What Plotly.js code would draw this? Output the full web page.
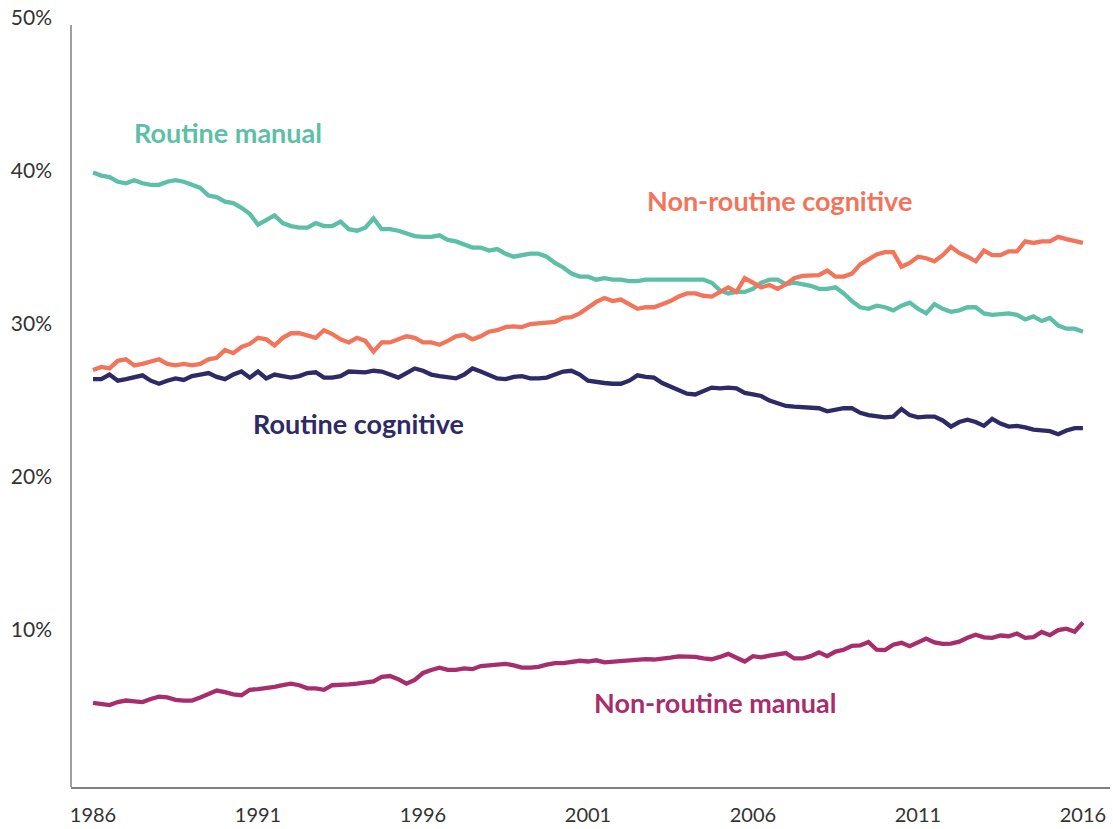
<!DOCTYPE html>
<html>
<head>
<meta charset="utf-8">
<script src="https://cdn.plot.ly/plotly-3.0.1.min.js"></script>
<style>html,body{margin:0;padding:0;background:#fff;}#chart{width:1113px;height:829px;}</style>
</head>
<body>
<div id="chart"></div>
<script>
// Quarterly shares of employment (%), 1986 Q1 to 2016 Q1
var startYear = 1986;
var routineManual = [
39.9,39.7,39.6,39.3,39.2,39.4,39.2,39.1,39.1,39.3,39.4,39.3,39.1,38.9,38.4,38.3,38.0,37.9,37.6,37.2,
36.5,36.8,37.1,36.6,36.4,36.3,36.3,36.6,36.4,36.4,36.7,36.2,36.1,36.3,36.9,36.2,36.2,36.1,35.9,35.75,
35.7,35.7,35.8,35.5,35.4,35.2,35.0,35.0,34.8,34.9,34.6,34.4,34.5,34.6,34.6,34.4,34.0,33.7,33.3,33.1,
33.1,32.9,33.0,32.9,32.9,32.8,32.8,32.9,32.9,32.9,32.9,32.9,32.9,32.9,32.9,32.7,32.2,32.0,32.1,32.1,
32.3,32.7,32.9,32.9,32.6,32.7,32.6,32.5,32.3,32.3,32.4,32.0,31.5,31.1,31.0,31.2,31.1,30.9,31.2,31.4,
31.0,30.7,31.3,31.0,30.8,30.9,31.1,31.1,30.7,30.6,30.65,30.7,30.6,30.3,30.5,30.2,30.4,29.9,29.7,29.7,
29.5];
var nonRoutineCognitive = [
27.0,27.2,27.1,27.6,27.7,27.3,27.4,27.55,27.7,27.4,27.3,27.4,27.3,27.4,27.7,27.8,28.3,28.1,28.5,28.7,
29.1,29.0,28.6,29.1,29.4,29.4,29.25,29.1,29.6,29.35,29.0,28.8,29.1,28.9,28.2,28.8,28.8,29.0,29.2,29.1,
28.8,28.8,28.65,28.9,29.2,29.3,29.0,29.2,29.5,29.6,29.8,29.85,29.8,30.0,30.05,30.1,30.15,30.4,30.45,30.7,
31.1,31.45,31.7,31.5,31.6,31.3,31.0,31.1,31.1,31.3,31.5,31.8,32.0,32.0,31.85,31.8,32.1,32.4,32.1,33.0,
32.7,32.4,32.55,32.3,32.6,33.0,33.15,33.2,33.2,33.5,33.1,33.1,33.3,33.9,34.25,34.55,34.7,34.7,33.75,34.0,
34.4,34.3,34.1,34.5,35.05,34.65,34.4,34.1,34.8,34.5,34.5,34.75,34.75,35.4,35.3,35.4,35.4,35.7,35.55,35.4,
35.3];
var routineCognitive = [
26.4,26.4,26.7,26.3,26.4,26.55,26.65,26.3,26.1,26.3,26.45,26.35,26.6,26.7,26.8,26.55,26.4,26.7,26.9,26.5,
26.9,26.45,26.7,26.6,26.5,26.6,26.8,26.85,26.5,26.5,26.6,26.9,26.85,26.85,26.95,26.9,26.7,26.5,26.8,27.1,
26.95,26.7,26.6,26.55,26.45,26.7,27.1,26.9,26.7,26.45,26.4,26.55,26.6,26.45,26.45,26.5,26.7,26.9,26.95,26.7,
26.3,26.2,26.15,26.1,26.1,26.3,26.65,26.55,26.5,26.15,25.9,25.7,25.45,25.4,25.6,25.85,25.8,25.85,25.8,25.5,
25.4,25.3,25.0,24.8,24.65,24.6,24.55,24.55,24.5,24.3,24.4,24.5,24.5,24.2,24.05,23.95,23.9,23.95,24.45,24.05,
23.9,23.95,23.95,23.7,23.3,23.6,23.75,23.6,23.35,23.8,23.5,23.3,23.35,23.25,23.1,23.05,23.0,22.8,23.05,23.2,
23.2];
var nonRoutineManual = [
5.25,5.15,5.1,5.3,5.4,5.35,5.3,5.5,5.65,5.6,5.45,5.4,5.4,5.6,5.85,6.05,5.95,5.8,5.75,6.1,
6.15,6.2,6.3,6.4,6.5,6.4,6.2,6.2,6.1,6.4,6.4,6.45,6.5,6.55,6.65,6.95,7.0,6.8,6.5,6.75,
7.2,7.4,7.55,7.4,7.4,7.5,7.45,7.65,7.7,7.75,7.8,7.7,7.55,7.55,7.6,7.75,7.85,7.85,7.9,8.0,
7.95,8.03,7.9,7.95,8.0,8.05,8.1,8.1,8.08,8.12,8.2,8.28,8.3,8.25,8.15,8.1,8.25,8.45,8.2,7.95,
8.3,8.22,8.33,8.45,8.5,8.15,8.15,8.3,8.55,8.3,8.6,8.72,8.97,9.0,9.22,8.72,8.7,9.05,9.17,8.95,
9.2,9.45,9.2,9.1,9.12,9.25,9.5,9.7,9.53,9.5,9.65,9.6,9.78,9.5,9.55,9.88,9.67,10.0,10.1,9.9,
10.5];
var xTickYears = [1986, 1991, 1996, 2001, 2006, 2011, 2016];
var xTickLabels = ["1986", "1991", "1996", "2001", "2006", "2011", "2016"];
var yTickValues = [10, 20, 30, 40, 50];
var yTickLabels = ["10%", "20%", "30%", "40%", "50%"];
var seriesNames = ["Routine manual", "Non-routine cognitive", "Routine cognitive", "Non-routine manual"];
var seriesColors = ["#5DBFA8", "#F2745A", "#2E2A66", "#A82D6D"];

var quarters = routineManual.map(function (_, i) { return startYear + i / 4; });
var allSeries = [routineManual, nonRoutineCognitive, routineCognitive, nonRoutineManual];

var traces = allSeries.map(function (vals, k) {
  return {
    x: quarters, y: vals, type: "scatter", mode: "lines", name: seriesNames[k],
    line: { color: seriesColors[k], width: 4.3, shape: "linear" },
    hoverinfo: "x+y"
  };
});

var labelPos = [
  { x: 1990.09, y: 42.5 },
  { x: 2006.79, y: 38.05 },
  { x: 1994.06, y: 23.48 },
  { x: 2004.85, y: 5.3 }
];
var annotations = seriesNames.map(function (n, k) {
  return {
    x: labelPos[k].x, y: labelPos[k].y, xref: "x", yref: "y", text: "<b>" + n + "</b>",
    showarrow: false, xanchor: "center", yanchor: "middle",
    font: { family: "Lato, 'Open Sans', sans-serif", size: 27, color: seriesColors[k] }
  };
});

var layout = {
  width: 1113, height: 829,
  margin: { l: 71, r: 3, t: 18, b: 42 },
  paper_bgcolor: "#ffffff", plot_bgcolor: "#ffffff",
  showlegend: false,
  font: { family: "Lato, 'Open Sans', sans-serif", size: 21, color: "#333333" },
  xaxis: {
    range: [1985.333, 2016.82], tickmode: "array", tickvals: xTickYears, ticktext: xTickLabels,
    showgrid: false, zeroline: false, showline: true, linecolor: "#808080", linewidth: 1.5,
    ticks: "", ticklabelstandoff: 9, tickfont: { size: 20, color: "#333333" }
  },
  yaxis: {
    range: [-0.25, 50], tickmode: "array", tickvals: yTickValues, ticktext: yTickLabels,
    showgrid: false, zeroline: false, showline: false,
    ticks: "", ticklabelstandoff: 18, tickfont: { size: 21, color: "#333333" }
  },
  shapes: [{
    type: "line", xref: "paper", yref: "y", x0: 0, x1: 0, y0: -0.25, y1: 49.55,
    line: { color: "#808080", width: 1.5 }
  }],
  annotations: annotations
};

Plotly.newPlot("chart", traces, layout, { displayModeBar: false, staticPlot: true });
</script>
</body>
</html>
